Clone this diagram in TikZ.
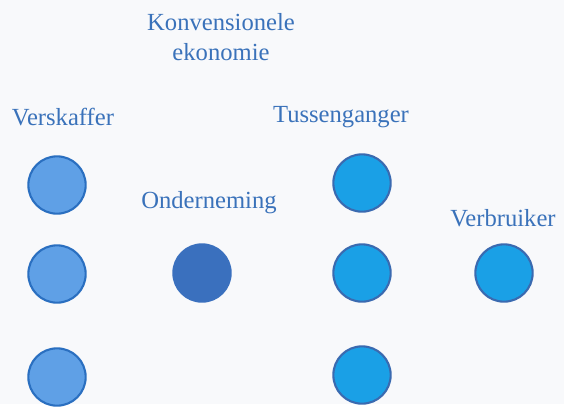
\documentclass[tikz,border=0pt]{standalone}
\usepackage{fontspec}
\setmainfont{Liberation Serif}
\usetikzlibrary{positioning}
\definecolor{pageback}{HTML}{F8F9FB}
\definecolor{labelblue}{HTML}{3A72BA}
\definecolor{supplyfill}{HTML}{5FA0E6}
\definecolor{supplyline}{HTML}{2A6FC0}
\definecolor{firmfill}{HTML}{3A70BE}
\definecolor{midfill}{HTML}{1AA0E6}
\definecolor{midline}{HTML}{3A6AB0}
\begin{document}
\begin{tikzpicture}[x=0.03cm,y=-0.03cm,
    lbl/.style={font=\fontsize{21}{25.5}\selectfont, text=labelblue, align=center},
    dot/.style={circle, minimum size=1.72cm, inner sep=0pt, line width=1.8pt},
    supplier/.style={dot, fill=supplyfill, draw=supplyline},
    firm/.style={dot, fill=firmfill, draw=firmfill},
    middle/.style={dot, fill=midfill, draw=midline}]
  \path[fill=pageback] (0,0) rectangle (564,404);

  % titels
  \node[lbl] (title) at (221,37) {Konvensionele\\ekonomie};
  \node[lbl] (suplbl) at (63,117) {Verskaffer};
  \node[lbl] (midlbl) at (341,117) {Tussenganger};
  \node[lbl] (firmlbl) at (209,203) {Onderneming};
  \node[lbl] (conlbl) at (503,218) {Verbruiker};

  % verskaffers
  \node[supplier] (s1) at (57,185) {};
  \node[supplier] (s2) at (57,274) {};
  \node[supplier] (s3) at (57,377) {};

  % onderneming
  \node[firm] (f1) at (202,273) {};

  % tussengangers en verbruiker
  \node[middle] (m1) at (362,183) {};
  \node[middle] (m2) at (362,273) {};
  \node[middle] (m3) at (362,375) {};
  \node[middle] (c1) at (504,273) {};
\end{tikzpicture}
\end{document}
